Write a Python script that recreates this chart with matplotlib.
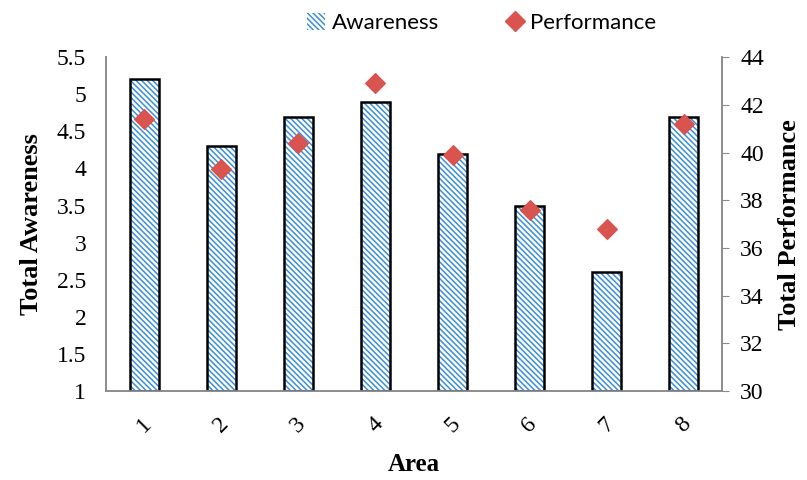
import matplotlib.pyplot as plt
import numpy as np
from matplotlib.lines import Line2D
from matplotlib.patches import Patch

areas = ['1', '2', '3', '4', '5', '6', '7', '8']
awareness = [5.2, 4.3, 4.7, 4.9, 4.2, 3.5, 2.6, 4.7]
performance = [41.4, 39.3, 40.4, 42.9, 39.9, 37.6, 36.8, 41.2]

serif = ['Liberation Serif', 'DejaVu Serif']
blue = '#3a8fd8'
red = '#d9534f'
gray = '#8c8c8c'
plt.rcParams['hatch.linewidth'] = 1.1

fig = plt.figure(figsize=(8.07, 4.80), dpi=100)
ax = fig.add_axes([0.131, 0.185, 0.764, 0.696])
ax2 = ax.twinx()

x = np.arange(len(areas))
w = 0.37
# hatch drawn in blue, outline drawn separately in black
ax.bar(x, np.array(awareness) - 1, w, bottom=1, color='white', edgecolor=blue,
       hatch='\\\\\\\\\\\\', linewidth=0, zorder=2)
ax.bar(x, np.array(awareness) - 1, w, bottom=1, fill=False, edgecolor='black',
       linewidth=1.8, zorder=3)
ax2.scatter(x, performance, marker='D', s=100, color=red, zorder=4)

ax.set_xlim(-0.5, 7.5)
ax.set_ylim(1, 5.5)
ax.set_yticks(np.arange(1, 5.51, 0.5))
ax.set_yticklabels(['1', '1.5', '2', '2.5', '3', '3.5', '4', '4.5', '5', '5.5'])
ax2.set_ylim(30, 44)
ax2.set_yticks(np.arange(30, 45, 2))

ax.set_xticks(x)
ax.set_xticklabels(areas, rotation=45, fontfamily=serif, fontsize=17)
ax.tick_params(axis='x', length=0, pad=16)
ax.tick_params(axis='y', length=0, pad=14, labelsize=17)
for t in ax.get_yticklabels():
    t.set_fontfamily(serif)
ax2.tick_params(axis='y', length=5, color=gray, pad=8, labelsize=17)
for t in ax2.get_yticklabels():
    t.set_fontfamily(serif)

for a in (ax, ax2):
    a.spines['top'].set_visible(False)
    for s in ('left', 'right', 'bottom'):
        a.spines[s].set_color(gray)
        a.spines[s].set_linewidth(1.2)

ax.set_xlabel('Area', fontfamily=serif, fontsize=18, fontweight='bold', labelpad=12)
ax.set_ylabel('Total Awareness', fontfamily=serif, fontsize=19, fontweight='bold', labelpad=10)
ax2.set_ylabel('Total Performance', fontfamily=serif, fontsize=19, fontweight='bold', labelpad=10)

handles = [Patch(facecolor='white', edgecolor=blue, hatch='\\\\\\\\\\\\', linewidth=0),
           Line2D([], [], marker='D', color=red, linestyle='none', markersize=10)]
leg = fig.legend(handles, ['Awareness', 'Performance'], loc='upper center',
                 bbox_to_anchor=(0.597, 1.015), ncol=2, frameon=False,
                 prop={'family': 'Lato', 'size': 16}, handlelength=0.8,
                 handleheight=0.8, handletextpad=0.3, columnspacing=3.0)

fig.savefig('out.png', dpi=100)
